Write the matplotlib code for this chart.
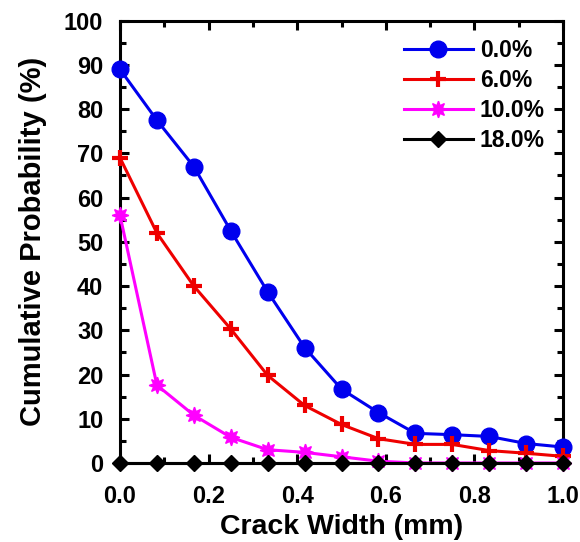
import matplotlib.pyplot as plt
import numpy as np
from matplotlib.ticker import MultipleLocator

plt.rcParams['font.family'] = ['Liberation Sans', 'DejaVu Sans']
plt.rcParams['font.weight'] = 'bold'

# crack widths (mm), 13 points
crack_width = [0.0, 0.0833, 0.1667, 0.25, 0.3333, 0.4167, 0.5, 0.5833,
               0.6667, 0.75, 0.8333, 0.9167, 1.0]

prob_0 = [89.0, 77.5, 67.0, 52.5, 38.7, 26.1, 16.7, 11.4, 6.7, 6.4, 6.0, 4.4, 3.6]
prob_6 = [69.0, 52.0, 40.0, 30.3, 19.8, 13.0, 8.7, 5.5, 4.2, 4.2, 2.8, 2.2, 1.5]
prob_10 = [56.0, 17.6, 10.8, 5.8, 3.0, 2.4, 1.4, 0.4, 0.0, 0.0, 0.0, 0.0, 0.0]
prob_18 = [0.0] * 13

labels = ['0.0%', '6.0%', '10.0%', '18.0%']

fig = plt.figure(figsize=(5.8, 5.42), dpi=100)
ax = fig.add_axes([0.2069, 0.1458, 0.7638, 0.816])

ax.plot(crack_width, prob_0, color='#0000ee', lw=2.2, marker='o', ms=12, label=labels[0], zorder=3, clip_on=False)
ax.plot(crack_width, prob_6, color='#ee0000', lw=2.2, marker='+', ms=12, mew=3, label=labels[1], zorder=4, clip_on=False)
ax.plot(crack_width, prob_10, color='#ff00ff', lw=2.2, marker=(8, 1, 0), ms=12, label=labels[2], zorder=5, clip_on=False)
ax.plot(crack_width, prob_18, color='black', lw=2.2, marker='D', ms=8.5, label=labels[3], zorder=6, clip_on=False)

ax.set_xlim(0, 1.0)
ax.set_ylim(0, 100)
ax.xaxis.set_major_locator(MultipleLocator(0.2))
ax.xaxis.set_minor_locator(MultipleLocator(0.1))
ax.yaxis.set_major_locator(MultipleLocator(10))
ax.yaxis.set_minor_locator(MultipleLocator(5))
ax.xaxis.set_major_formatter(plt.FuncFormatter(lambda v, p: f'{v:.1f}'))

for s in ax.spines.values():
    s.set_linewidth(2.2)
ax.tick_params(which='both', direction='in', top=True, right=True, width=2.2, labelsize=17)
ax.tick_params(which='major', length=6.5)
ax.tick_params(which='minor', length=4)
ax.tick_params(axis='x', which='major', pad=16)
ax.tick_params(axis='y', which='major', pad=12)

ax.set_xlabel('Crack Width (mm)', fontsize=20.5, fontweight='bold', labelpad=4)
ax.set_ylabel('Cumulative Probability (%)', fontsize=21, fontweight='bold', labelpad=12)

ax.legend(loc='upper right', frameon=False, fontsize=16.5, handlelength=3.0,
          handletextpad=0.3, labelspacing=0.3, borderaxespad=0.4)

fig.savefig('out.png', dpi=100)
